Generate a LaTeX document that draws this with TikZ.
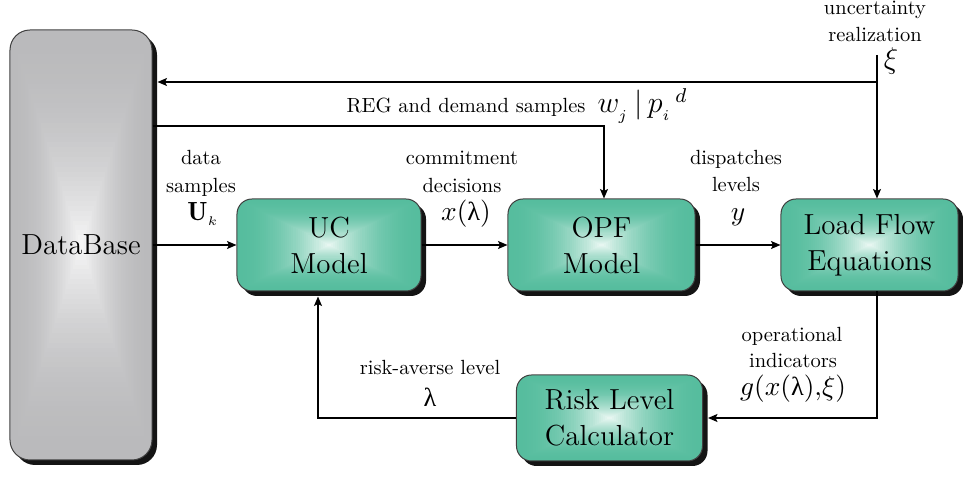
\documentclass[tikz,border=0pt]{standalone}
\usepackage{fontspec}
\usetikzlibrary{calc,arrows.meta,shadows}
\newfontfamily\lamfont{Liberation Serif}
\newfontfamily\lblfont{lmroman10-regular.otf}
\newcommand{\lam}{\mbox{\lamfont λ}}
\definecolor{tealedge}{RGB}{86,189,158}
\definecolor{tealmid}{RGB}{238,249,245}
\definecolor{grayedge}{RGB}{186,186,188}
\definecolor{graymid}{RGB}{248,248,248}

\tikzset{
  % concentric rectangles, lighter towards the centre
  rectglow/.style 2 args={path picture={
    \foreach \k in {0,...,44}{
      \pgfmathsetmacro\s{1-\k/44}
      \pgfmathsetmacro\p{100*(\k/44)^2}
      \fill[sharp corners,#2!\p!#1]
        ($(path picture bounding box.center)!\s!(path picture bounding box.south west)$)
        rectangle
        ($(path picture bounding box.center)!\s!(path picture bounding box.north east)$);
    }}},
  blockbase/.style={draw=black!75, line width=0.4pt, align=center, inner sep=0pt,
    font=\fontsize{11.6}{14.4}\selectfont,
    general shadow={fill=black!92, draw=none, path picture={}, shadow xshift=2pt, shadow yshift=-2pt}},
  tealblock/.style={blockbase, rounded corners=6pt, rectglow={tealedge}{tealmid}},
  grayblock/.style={blockbase, rounded corners=8pt, rectglow={grayedge}{graymid}},
  lbl/.style={inner sep=0pt, anchor=base, font=\lblfont\fontsize{8.2}{10}\selectfont},
  mlbl/.style={inner sep=0pt, anchor=base, font=\fontsize{10.5}{12}\selectfont},
  conn/.style={line width=0.5pt, -{Stealth[length=3.8pt,width=3.2pt,inset=0.8pt]}}
}

\begin{document}
\begin{tikzpicture}[x=0.4pt,y=-0.4pt]
\useasboundingbox (0,0) rectangle (963,477);

% blocks
\node[grayblock, minimum width=56.8pt, minimum height=172pt] (db) at (81,245) {DataBase};
\node[tealblock, minimum width=73.6pt, minimum height=36.8pt] (uc) at (329,245) {UC\\Model};
\node[tealblock, minimum width=74.8pt, minimum height=36.8pt] (opf) at (601.5,245) {OPF\\Model};
\node[tealblock, minimum width=70.8pt, minimum height=36.8pt] (lf) at (869.5,245) {Load Flow\\Equations};
\node[tealblock, minimum width=74.4pt, minimum height=34.4pt] (risk) at (609.5,418) {Risk Level\\Calculator};

% routing points
\coordinate (xi) at (877,55);
\coordinate (fork) at (877,82);
\coordinate (reg) at (604,126);
\coordinate (lfout) at (877,418);
\coordinate (rkout) at (318,418);

% connectors
\draw[conn] (xi) -- (lf.north -| xi);
\draw[conn] (fork) -- ([xshift=2pt]db.east |- fork);
\draw[conn] (db.east |- reg) -- (reg) -- (opf.north -| reg);
\draw[conn] (db.east |- uc.west) -- (uc.west);
\draw[conn] (uc.east) -- (opf.west);
\draw[conn] (opf.east) -- (lf.west);
\draw[conn] (lf.south -| lfout) -- (lfout) -- ([xshift=2pt]risk.east);
\draw[conn] (risk.west) -- (rkout) -- ([yshift=-2pt]uc.south -| rkout);

% labels
\node[lbl] (l-unc) at (875,15) {uncertainty};
\node[lbl] (l-real) at (875,42) {realization};
\node[mlbl, font=\fontsize{11.5}{12}\selectfont] (l-xi) at (891,69) {$\xi$};

\node[lbl] (l-reg) at (466,113) {REG and demand samples};
\node[mlbl, anchor=base west, font=\fontsize{12}{12}\selectfont] (l-wp) at (597,113) {$w_{_j}\,\big|\,p_{_i}{}^{\,d}$};

\node[lbl] (l-data) at (201,165) {data};
\node[lbl] (l-samp) at (201,193) {samples};
\node[mlbl] (l-uk) at (203,221) {$\mathbf{U}_{\scriptscriptstyle k}$};

\node[lbl] (l-comm) at (462,165) {commitment};
\node[lbl] (l-dec) at (462,193) {decisions};
\node[mlbl] (l-x) at (466,221) {$x(\lam)$};

\node[lbl] (l-disp) at (736,165) {dispatches};
\node[lbl] (l-lev) at (736,192) {levels};
\node[mlbl] (l-y) at (738,221) {$y$};

\node[lbl] (l-op) at (792,342) {operational};
\node[lbl] (l-ind) at (793,368) {indicators};
\node[mlbl] (l-g) at (793,396) {$g(x(\lam){,}\xi)$};

\node[lbl] (l-risk) at (430,375) {risk-averse level};
\node[mlbl] (l-lam) at (430,407) {$\lam$};
\end{tikzpicture}
\end{document}
